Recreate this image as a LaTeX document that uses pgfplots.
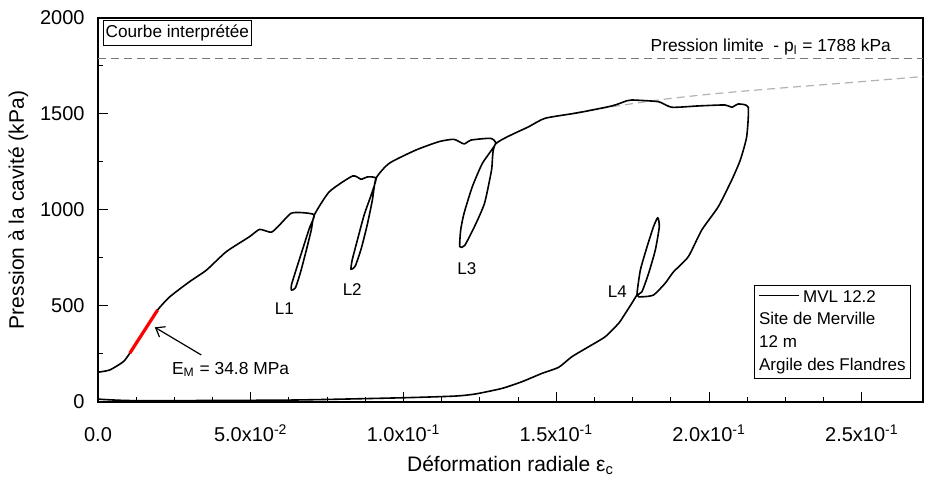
\documentclass[border=0pt]{standalone}
\usepackage{fontspec}
\setmainfont{Liberation Sans}
\usepackage{pgfplots}
\pgfplotsset{compat=1.18}
\usetikzlibrary{arrows.meta}

\begin{document}
\begin{tikzpicture}
\begin{axis}[
  scale only axis,
  width=412.5pt, height=192pt,
  xmin=0, xmax=0.27, ymin=0, ymax=2000,
  axis line style={line width=1pt},
  xtick={0,0.05,0.1,0.15,0.2,0.25},
  xticklabels={0.0, 5.0x10\textsuperscript{-2}, 1.0x10\textsuperscript{-1}, 1.5x10\textsuperscript{-1}, 2.0x10\textsuperscript{-1}, 2.5x10\textsuperscript{-1}},
  ytick={0,500,1000,1500,2000},
  minor x tick num=3, minor y tick num=1,
  tick align=inside, xtick pos=bottom, ytick pos=left,
  major tick length=5pt, minor tick length=2.5pt,
  tick style={black, line width=0.5pt},
  ticklabel style={font=\fontsize{10}{12}\selectfont},
  /pgf/number format/assume math mode=true,
  /pgf/number format/1000 sep={},
  xticklabel style={anchor=base, yshift=-19.8pt},
  yticklabel style={anchor=east, xshift=-3.2pt},
  xlabel={Déformation radiale ε\textsubscript{c}},
  ylabel={Pression à la cavité (kPa)},
  label style={font=\fontsize{10.5}{12}\selectfont},
  xlabel style={at={(axis description cs:0.5,0)}, anchor=base, yshift=-34.8pt},
  ylabel style={at={(axis description cs:-0.0897,0.5)}, anchor=base},
]
% pressure limit line
\addplot[gray!95!black, line width=0.6pt, dash pattern=on 4pt off 2.5pt] coordinates {(0,1788) (0.27,1788)};
% interpreted curve extrapolation
\addplot[black!30, line width=0.6pt, dash pattern=on 4pt off 2.5pt, smooth] coordinates {
(0.1557,1505) (0.1650,1530) (0.1834,1573) (0.2008,1604) (0.2226,1634) (0.2440,1661) (0.2700,1695)};
% measured curve
\addplot[black, line width=0.8pt, line join=round, smooth, tension=0.35] coordinates {
(0,155) (0.0039,167) (0.0083,210) (0.0104,254) (0.0150,366) (0.0195,479)
(0.0235,548) (0.0300,627) (0.0355,687) (0.0420,783) (0.0496,861)
(0.0529,899) (0.0567,884) (0.0594,922) (0.0632,983) (0.0670,986) (0.0708,974)
(0.0692,906) (0.0669,792) (0.0646,677) (0.0633,609) (0.0633,583)
(0.0646,594) (0.0663,677) (0.0682,792) (0.0698,896) (0.0708,974)
(0.0757,1095) (0.0833,1177) (0.0861,1160) (0.0881,1172) (0.0910,1165)
(0.0894,1078) (0.0871,974) (0.0849,844) (0.0832,740) (0.0828,691)
(0.0842,708) (0.0862,802) (0.0881,922) (0.0898,1052) (0.0910,1165)
(0.0953,1243) (0.1040,1312) (0.1116,1356) (0.1165,1368) (0.1198,1344)
(0.1220,1364) (0.1285,1373) (0.1301,1344)
(0.1258,1243) (0.1225,1121) (0.1198,983) (0.1187,896) (0.1184,809)
(0.1200,815) (0.1232,913) (0.1265,1035) (0.1288,1208) (0.1301,1344)
(0.1410,1434) (0.1464,1478) (0.1573,1507) (0.1682,1542) (0.1731,1569)
(0.1747,1573) (0.1834,1564) (0.1878,1535) (0.1965,1542) (0.2052,1547)
(0.2074,1535) (0.2096,1552) (0.2128,1535)
(0.2123,1382) (0.2102,1260) (0.2074,1156) (0.2030,1017) (0.1976,896)
(0.1932,757) (0.1883,677) (0.1856,618) (0.1818,557) (0.1780,548) (0.1764,557)
(0.1775,687) (0.1797,809) (0.1818,913) (0.1832,960) (0.1837,913)
(0.1824,792) (0.1802,670) (0.1780,574) (0.1764,557)
(0.1747,514) (0.1726,462) (0.1704,410) (0.1660,340) (0.1606,288)
(0.1551,236) (0.1508,181) (0.1453,149) (0.1388,106) (0.1323,71)
(0.1236,42) (0.1171,31) (0.0997,22) (0.0627,10) (0.0126,7) (0,15)};
% modulus segment
\addplot[red, line width=1.6pt] coordinates {(0.0104,254) (0.0195,479)};
% arrow
\addplot[black, line width=0.6pt, -{Straight Barb[length=4pt,width=6pt]}] coordinates {(0.0338,245) (0.0186,389)};

\node[anchor=base west, font=\fontsize{8.7}{10}\selectfont, inner sep=0pt] at (axis cs:0.0241,144) {E\textsubscript{M} = 34.8 MPa};
\node[anchor=base east, font=\fontsize{8.7}{10}\selectfont, inner sep=0pt] at (axis cs:0.2596,1824) {Pression limite\ \ - p\textsubscript{l} = 1788 kPa};
\node[draw, line width=0.5pt, anchor=north west, font=\fontsize{8.6}{10}\selectfont, inner xsep=1.3pt, inner ysep=2.2pt] at (axis cs:0.0015,1989) {Courbe interprétée};
\node[font=\fontsize{8.5}{10}\selectfont] at (axis cs:0.0610,488) {L1};
\node[font=\fontsize{8.5}{10}\selectfont] at (axis cs:0.0832,584) {L2};
\node[font=\fontsize{8.5}{10}\selectfont] at (axis cs:0.1207,696) {L3};
\node[font=\fontsize{8.5}{10}\selectfont] at (axis cs:0.1700,573) {L4};
\node[draw, line width=0.5pt, anchor=north west, align=left, inner sep=2.3pt, font=\fontsize{8.5}{11.4}\selectfont] at (axis cs:0.2147,609)
  {\rule[3pt]{20pt}{0.6pt}\hspace{2pt}MVL 12.2\\Site de Merville\\12 m\\Argile des Flandres};
\end{axis}
\pgfresetboundingbox
\path[use as bounding box] ([shift={(-49pt,-41pt)}]current axis.south west) rectangle ([shift={(11.5pt,9pt)}]current axis.north east);
\end{tikzpicture}
\end{document}
